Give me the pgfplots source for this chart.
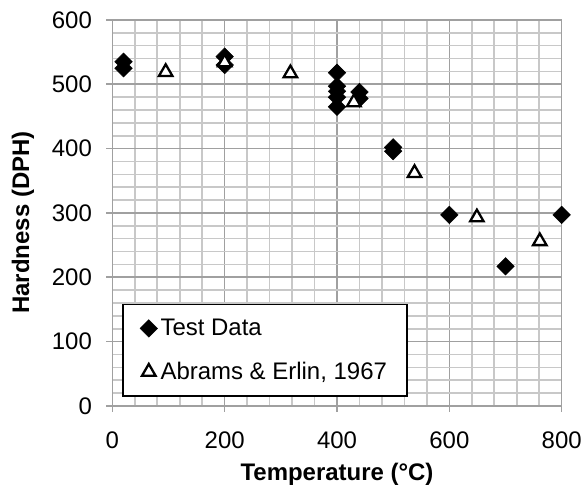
\documentclass[border=0pt]{standalone}
\usepackage{fontspec}
\setmainfont{Liberation Sans}
\usepackage{pgfplots}
\pgfplotsset{compat=1.18}
\definecolor{majgrid}{RGB}{160,160,160}
\definecolor{mingrid}{RGB}{200,200,200}

\begin{document}
\begin{tikzpicture}
\begin{axis}[
    scale only axis,
    width=450bp, height=386.5bp,
    xmin=0, xmax=800, ymin=0, ymax=600,
    xtick={0,200,...,800}, ytick={0,100,...,600},
    minor x tick num=4, minor y tick num=4,
    grid=both,
    major grid style={majgrid, line width=1.6bp},
    minor grid style={mingrid, line width=1.6bp},
    axis line style={majgrid, line width=1.6bp},
    tick style={majgrid, line width=1.6bp},
    major tick length=6bp, minor tick length=0pt,
    tick align=outside, tick pos=left,
    font=\fontsize{24bp}{28bp}\selectfont,
    /pgf/number format/assume math mode=true,
    xticklabel style={yshift=-16bp},
    yticklabel style={xshift=-11bp},
    xlabel={\bfseries Temperature (°C)},
    ylabel={\bfseries Hardness (DPH)},
    xlabel style={at={(axis description cs:0.5,-0.178)}, anchor=center},
    ylabel style={at={(axis description cs:-0.199,0.475)}, anchor=center},
    clip=false,
    legend cell align=left,
    legend style={at={(0.0222,0.0233)}, anchor=south west,
        draw=black, line width=1.5bp, fill=white,
        inner xsep=17bp, inner ysep=13bp, row sep=21bp,
        nodes={inner xsep=3bp}},
    legend image code/.code={\draw[#1] plot coordinates {(0cm,0cm)};},
]
% Test data
\addplot[only marks, mark=square*, mark size=6.2bp,
    mark options={rotate=45, fill=black, draw=black, line width=0.5bp}]
coordinates {
    (20,535) (20,525)
    (200,543) (200,530)
    (400,518) (400,497) (400,489) (400,480) (400,465)
    (440,488) (440,478)
    (500,402) (500,396)
    (600,297) (700,217) (800,297)
};
\addlegendentry{Test Data}
% Abrams & Erlin, 1967
\addplot[only marks, mark=triangle*, mark size=7.8bp,
    mark options={fill=white, draw=black, line width=2.3bp}]
coordinates {
    (95,519) (200,534) (317,517) (430,472)
    (538,362) (649,293) (761,256)
};
\addlegendentry{Abrams \& Erlin, 1967}
\end{axis}
\path (-112.5bp,-78.5bp) rectangle (472.5bp,406.5bp);
\end{tikzpicture}
\end{document}
